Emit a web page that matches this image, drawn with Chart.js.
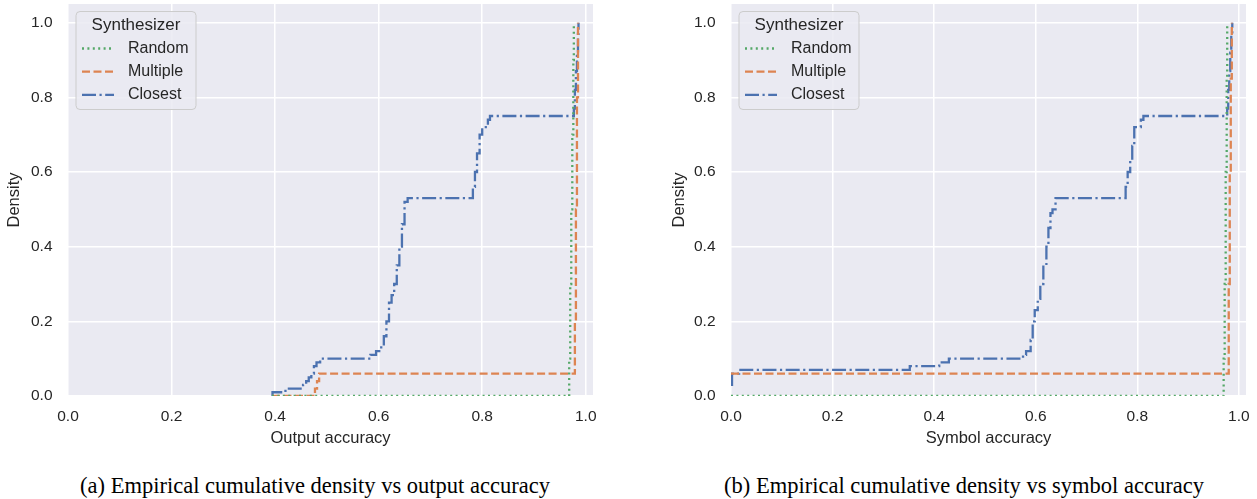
<!DOCTYPE html>
<html>
<head>
<meta charset="utf-8">
<script src="https://cdn.jsdelivr.net/npm/chart.js@4.4.0/dist/chart.umd.min.js"></script>
<style>
  body { margin: 0; width: 1257px; height: 499px; background: #fff; position: relative; overflow: hidden; }
  canvas { position: absolute; top: 0; }
  #chartA { left: 0; }
  #chartB { left: 663px; }
  .caption {
    position: absolute; top: 472px; line-height: 28px;
    font-family: 'Liberation Serif', 'Times New Roman', serif; font-size: 22.5px;
    color: #000; white-space: nowrap; transform: translateX(-50%);
  }
</style>
</head>
<body>
<canvas id="chartA" width="600" height="460"></canvas>
<canvas id="chartB" width="594" height="460"></canvas>
<div class="caption" style="left:315px">(a) Empirical cumulative density vs output accuracy</div>
<div class="caption" style="left:964px">(b) Empirical cumulative density vs symbol accuracy</div>
<script>
// tick labels shared by both panels
const xTicks = [0, 0.2, 0.4, 0.6, 0.8, 1.0];
const yTicks = [0, 0.2, 0.4, 0.6, 0.8, 1.0];
const seriesNames = ['Random', 'Multiple', 'Closest'];

// (a) output accuracy - ECDF steps (value holds from x onward)
const outRandomX = [0.394, 0.968, 0.970, 0.972, 0.974, 0.976, 0.977];
const outRandomY = [0, 0.10, 0.30, 0.50, 0.70, 0.90, 1.0];
const outMultipleX = [0.394, 0.477, 0.481, 0.485, 0.979, 0.981, 0.983, 0.985];
const outMultipleY = [0, 0.02, 0.04, 0.06, 0.20, 0.50, 0.80, 1.0];
const outClosestX = [0.394, 0.395, 0.42, 0.454, 0.46, 0.465, 0.47, 0.475, 0.48, 0.487,
  0.584, 0.595, 0.605, 0.61, 0.615, 0.62, 0.625, 0.63, 0.635, 0.64, 0.645, 0.65, 0.656,
  0.782, 0.786, 0.79, 0.795, 0.80, 0.811, 0.815, 0.977, 0.979, 0.981, 0.983, 0.985, 0.986];
const outClosestY = [0, 0.01, 0.02, 0.03, 0.04, 0.05, 0.06, 0.08, 0.09, 0.10,
  0.11, 0.12, 0.13, 0.16, 0.20, 0.25, 0.27, 0.30, 0.35, 0.40, 0.46, 0.52, 0.53,
  0.56, 0.60, 0.65, 0.70, 0.72, 0.74, 0.75, 0.77, 0.82, 0.87, 0.92, 0.97, 1.0];

// (b) symbol accuracy
const symRandomX = [0, 0.970, 0.972, 0.974, 0.976, 0.977];
const symRandomY = [0, 0.10, 0.30, 0.60, 0.85, 1.0];
const symMultipleX = [0, 0.980, 0.982, 0.984, 0.986];
const symMultipleY = [0.06, 0.30, 0.60, 0.85, 1.0];
const symClosestX = [0, 0.002, 0.016, 0.352, 0.41, 0.429, 0.575, 0.581, 0.59, 0.594,
  0.598, 0.604, 0.609, 0.615, 0.621, 0.625, 0.629, 0.633, 0.639, 0.777, 0.781, 0.786,
  0.79, 0.794, 0.807, 0.812, 0.977, 0.979, 0.981, 0.983, 0.985, 0.987];
const symClosestY = [0.03, 0.06, 0.07, 0.08, 0.09, 0.10, 0.11, 0.12, 0.15, 0.20,
  0.23, 0.26, 0.30, 0.35, 0.40, 0.45, 0.49, 0.50, 0.53, 0.56, 0.60, 0.63,
  0.67, 0.72, 0.74, 0.75, 0.77, 0.82, 0.87, 0.92, 0.97, 1.0];

const colors = ['#55A868', '#DD8452', '#4C72B0'];
const dashes = [[2, 3.4], [8, 3.5], [14, 3.5, 2.2, 3.5]];
const textColor = '#262626';
const fontFamily = "'Liberation Sans', Arial, sans-serif";

const toPoints = (xs, ys) => xs.map((x, i) => ({ x: x, y: ys[i] }));

// paint the seaborn style grey background behind the grid
const bgPlugin = {
  id: 'plotBg',
  beforeDraw(chart) {
    const { ctx, chartArea: a } = chart;
    ctx.save();
    ctx.fillStyle = '#EAEAF2';
    ctx.fillRect(a.left, a.top, a.right - a.left, a.bottom - a.top);
    ctx.restore();
  }
};

// legend box inside the upper left corner of the plot
const legendPlugin = {
  id: 'synthLegend',
  afterDatasetsDraw(chart) {
    const { ctx, chartArea: a } = chart;
    const bx = a.left + 8, by = a.top + 7.5, w = 120, h = 98;
    ctx.save();
    ctx.beginPath();
    ctx.roundRect(bx, by, w, h, 4);
    ctx.fillStyle = 'rgba(234,234,242,0.85)';
    ctx.fill();
    ctx.strokeStyle = '#cccccc';
    ctx.lineWidth = 1;
    ctx.stroke();

    ctx.fillStyle = textColor;
    ctx.textBaseline = 'middle';
    ctx.textAlign = 'center';
    ctx.font = '17px ' + fontFamily;
    ctx.fillText('Synthesizer', bx + 60, by + 14);

    ctx.textAlign = 'left';
    ctx.font = '16px ' + fontFamily;
    chart.data.datasets.forEach((ds, i) => {
      const y = by + 37 + i * 23.2;
      ctx.beginPath();
      ctx.setLineDash(ds.borderDash);
      ctx.strokeStyle = ds.borderColor;
      ctx.lineWidth = ds.borderWidth;
      ctx.moveTo(bx + 6, y);
      ctx.lineTo(bx + 38, y);
      ctx.stroke();
      ctx.setLineDash([]);
      ctx.fillText(ds.label, bx + 52, y);
    });
    ctx.restore();
  }
};

function makeChart(id, xTitle, seriesX, seriesY, padRight, yTitlePad) {
  const datasets = seriesNames.map((name, i) => ({
    label: name,
    data: toPoints(seriesX[i], seriesY[i]),
    borderColor: colors[i],
    borderWidth: 2.3,
    borderDash: dashes[i],
    stepped: 'before',
    pointRadius: 0,
    fill: false,
    clip: 0
  }));

  return new Chart(document.getElementById(id), {
    type: 'line',
    data: { datasets: datasets },
    options: {
      responsive: false,
      animation: false,
      layout: { padding: { top: 4, right: padRight, left: 0, bottom: 0 } },
      plugins: { legend: { display: false }, tooltip: { enabled: false } },
      scales: {
        x: {
          type: 'linear',
          min: 0,
          max: 1.014,
          afterBuildTicks: (s) => { s.ticks = xTicks.map(v => ({ value: v })); },
          afterFit: (s) => { s.height = 64; s.paddingLeft = 0; s.paddingRight = 0; },
          grid: { color: '#ffffff', lineWidth: 1.5, drawTicks: false },
          border: { display: false },
          ticks: {
            padding: 11,
            color: textColor,
            maxRotation: 0,
            autoSkip: false,
            font: { family: fontFamily, size: 15.5 },
            callback: (v) => v.toFixed(1)
          },
          title: {
            display: true,
            text: xTitle,
            color: textColor,
            font: { family: fontFamily, size: 16.5 },
            padding: { top: 0, bottom: 12 }
          }
        },
        y: {
          min: 0,
          max: 1.05,
          afterBuildTicks: (s) => { s.ticks = yTicks.map(v => ({ value: v })); },
          afterFit: (s) => { s.width = 68; s.paddingTop = 0; s.paddingBottom = 0; },
          grid: { color: '#ffffff', lineWidth: 1.5, drawTicks: false },
          border: { display: false },
          ticks: {
            padding: 15.5,
            color: textColor,
            font: { family: fontFamily, size: 15.5 },
            callback: (v) => v.toFixed(1)
          },
          title: {
            display: true,
            text: 'Density',
            color: textColor,
            font: { family: fontFamily, size: 16.5 },
            padding: { top: yTitlePad, bottom: 0 }
          }
        }
      }
    },
    plugins: [bgPlugin, legendPlugin]
  });
}

makeChart('chartA', 'Output accuracy',
  [outRandomX, outMultipleX, outClosestX],
  [outRandomY, outMultipleY, outClosestY], 7, 5);

makeChart('chartB', 'Symbol accuracy',
  [symRandomX, symMultipleX, symClosestX],
  [symRandomY, symMultipleY, symClosestY], 11, 7);
</script>
</body>
</html>
